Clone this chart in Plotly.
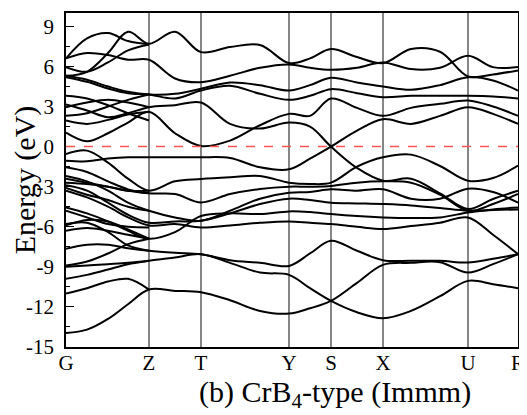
import plotly.graph_objects as go

# k-path sample positions (arbitrary path-length units) and high-symmetry points
K = [0, 21, 42, 62, 83, 109, 135, 164, 194, 223, 244, 265, 291, 317, 345, 374, 402, 427, 452]
sym_k = [0, 83, 135, 223, 265, 317, 402, 452]
sym_labels = ["G", "Z", "T", "Y", "S", "X", "U", "R"]

y_ticks = [9, 6, 3, 0, -3, -6, -9, -12, -15]
y_ticktext = ["9", "6", "3", "0", "-3", "-6", "-9", "-12", "-15"]

# full-path bands (eV) at the K samples
band_01 = [5.3, 5.6, 7.0, 8.6, 7.7, 8.6, 7.07, 7.45, 7.6, 6.25, 6.6, 7.3, 6.7, 6.25, 7.3, 7.1, 5.25, 5.4, 5.7]
band_02 = [6.6, 7.0, 6.85, 6.5, 6.5, 5.1, 4.82, 5.3, 5.9, 6.15, 5.9, 5.75, 5.9, 6.3, 5.8, 5.9, 6.8, 5.95, 5.95]
band_03 = [5.3, 5.0, 4.5, 4.1, 3.9, 3.95, 4.33, 4.8, 4.6, 4.2, 4.6, 5.15, 4.8, 4.5, 4.25, 4.6, 5.2, 4.95, 4.2]
band_04 = [5.2, 4.85, 4.35, 4.0, 3.9, 3.6, 4.2, 4.55, 3.95, 3.5, 3.8, 4.3, 4.0, 3.7, 3.8, 3.8, 3.8, 3.75, 3.6]
band_05 = [3.15, 2.7, 2.2, 2.5, 2.95, 3.1, 3.3, 1.7, 1.35, 1.8, 1.5, 0.0, -1.6, -2.55, -2.4, -3.5, -4.67, -3.92, -3.3]
band_06 = [1.05, 0.4, 1.0, 1.8, 2.6, 1.0, 0.05, 0.45, 1.6, 2.45, 2.3, 3.6, 2.9, 2.3, 2.9, 3.2, 3.45, 3.0, 2.3]
band_07 = [-1.05, -1.1, -0.9, -0.8, -0.8, -0.8, -0.8, -0.85, -1.55, -1.7, -0.9, 0.0, 1.2, 2.05, 1.7, 2.3, 2.95, 2.45, 1.7]
band_08 = [-0.55, -0.3, -1.2, -2.4, -3.3, -2.6, -2.43, -2.3, -2.2, -2.7, -2.8, -2.7, -1.5, -0.8, -0.6, -1.45, -2.55, -2.35, -1.43]
band_09 = [-1.55, -1.9, -2.6, -3.2, -3.5, -3.55, -4.18, -3.55, -3.17, -3.0, -3.0, -2.95, -2.7, -2.6, -2.7, -3.6, -4.8, -4.3, -3.55]
band_10 = [-2.2, -2.6, -3.3, -4.2, -4.8, -5.3, -5.55, -4.8, -3.9, -3.45, -3.4, -3.2, -3.3, -3.2, -3.9, -3.9, -3.15, -3.4, -4.2]
band_11 = [-2.9, -3.3, -4.2, -5.1, -5.7, -5.6, -5.55, -5.0, -4.3, -3.9, -4.0, -4.2, -4.25, -4.3, -4.4, -4.6, -4.8, -4.75, -4.7]
band_12 = [-4.55, -5.0, -5.6, -6.3, -6.9, -6.4, -5.2, -5.0, -5.05, -4.85, -4.9, -5.05, -5.2, -5.3, -5.35, -5.3, -4.93, -4.7, -4.55]
band_13 = [-3.3, -3.8, -4.5, -5.3, -5.9, -5.8, -6.05, -5.9, -5.7, -5.6, -5.7, -5.8, -6.0, -6.17, -5.95, -5.7, -5.3, -6.6, -8.05]
band_14 = [-7.65, -7.35, -7.35, -7.6, -7.8, -7.95, -8.05, -8.5, -8.7, -8.93, -8.0, -7.05, -7.8, -8.5, -8.55, -8.55, -8.68, -8.4, -8.05]
band_15 = [-9.9, -9.6, -9.2, -8.8, -8.55, -8.3, -8.05, -8.7, -9.43, -9.6, -10.6, -11.55, -12.4, -12.85, -12.3, -11.2, -10.05, -10.3, -10.6]
band_16 = [-13.95, -13.7, -12.9, -11.8, -10.7, -10.8, -10.9, -11.5, -12.3, -12.5, -12.1, -11.55, -10.2, -8.85, -8.7, -8.65, -9.43, -8.8, -8.05]

# bands drawn only along G-Z (degenerate with others beyond Z)
gz_01 = [5.95, 5.6, 6.3, 7.2, 7.65]
gz_02 = [3.8, 3.6, 3.1, 2.5, 1.95]
gz_03 = [2.95, 3.3, 3.5, 3.3, 2.95]
gz_04 = [2.3, 2.5, 3.0, 3.5, 3.9]
gz_05 = [1.95, 1.7, 2.0, 2.4, 2.6]
gz_06 = [6.6, 8.1, 8.5, 7.9, 7.65]
gz_07 = [-2.4, -2.7, -3.0, -3.3, -3.3]
gz_08 = [-2.7, -2.8, -3.0, -3.3, -3.5]
gz_09 = [-3.1, -3.6, -4.0, -4.5, -4.8]
gz_10 = [-4.8, -5.3, -5.8, -6.0, -6.05]
gz_11 = [-5.9, -5.5, -5.6, -6.2, -6.9]
gz_12 = [-5.8, -5.7, -6.4, -7.4, -7.8]
gz_13 = [-6.3, -6.1, -6.3, -6.6, -6.9]
gz_14 = [-9.0, -8.9, -8.8, -8.7, -8.55]
gz_15 = [-8.9, -8.6, -8.0, -7.3, -6.9]
gz_16 = [-11.0, -10.6, -10.1, -9.9, -10.7]

full_bands = [band_01, band_02, band_03, band_04, band_05, band_06, band_07, band_08,
              band_09, band_10, band_11, band_12, band_13, band_14, band_15, band_16]
gz_bands = [gz_01, gz_02, gz_03, gz_04, gz_05, gz_06, gz_07, gz_08,
            gz_09, gz_10, gz_11, gz_12, gz_13, gz_14, gz_15, gz_16]

SERIF = "Liberation Serif"

fig = go.Figure()
line_style = dict(color="black", width=2, shape="spline", smoothing=1.0)
for b in full_bands:
    fig.add_trace(go.Scatter(x=K, y=b, mode="lines", line=line_style,
                             hoverinfo="skip", showlegend=False))
for b in gz_bands:
    fig.add_trace(go.Scatter(x=K[:len(b)], y=b, mode="lines", line=line_style,
                             hoverinfo="skip", showlegend=False))

# vertical lines at interior high-symmetry points
for kx in sym_k[1:-1]:
    fig.add_shape(type="line", xref="x", yref="paper", x0=kx, x1=kx, y0=0, y1=1,
                  line=dict(color="#444444", width=1.3), layer="below")
# Fermi level
fig.add_shape(type="line", xref="paper", yref="y", x0=0, x1=1, y0=0, y1=0,
              line=dict(color="#ff5555", width=1.5, dash="dash"))

# the page body adds an 8 px offset, so the figure is sized/margined to compensate
fig.update_layout(
    width=519, height=407,
    margin=dict(l=58, r=9, t=5, b=68, autoexpand=False),
    paper_bgcolor="white", plot_bgcolor="white",
    font=dict(family=SERIF, color="black", size=21),
    xaxis=dict(range=[sym_k[0], sym_k[-1]], tickvals=sym_k, ticktext=sym_labels,
               automargin=False,
               showgrid=False, zeroline=False, showline=True, mirror=True,
               linecolor="black", linewidth=1.5, ticks="", ticklen=0,
               ticklabelstandoff=-4,
               tickfont=dict(family=SERIF, size=21, color="black")),
    yaxis=dict(range=[-15, 10], tickvals=y_ticks, ticktext=y_ticktext,
               automargin=False,
               showgrid=False, zeroline=False, showline=True, mirror=True,
               linecolor="black", linewidth=1.5, ticks="inside", ticklen=8,
               tickwidth=1.2, tickcolor="black", ticklabelstandoff=6,
               minor=dict(ticks="inside", ticklen=4, dtick=1.5, tick0=0, tickcolor="black"),
               tickfont=dict(family=SERIF, size=21, color="black"),
               title=dict(text="Energy (eV)", font=dict(family=SERIF, size=30, color="black"),
                          standoff=13)),
)
fig.add_annotation(text="(b) CrB<sub>4</sub>-type (Immm)", xref="paper", yref="paper",
                   x=(335 - 66) / 452, y=-0.142, xanchor="center", yanchor="middle",
                   showarrow=False, font=dict(family=SERIF, size=30, color="black"))

fig.write_html("out.html")
